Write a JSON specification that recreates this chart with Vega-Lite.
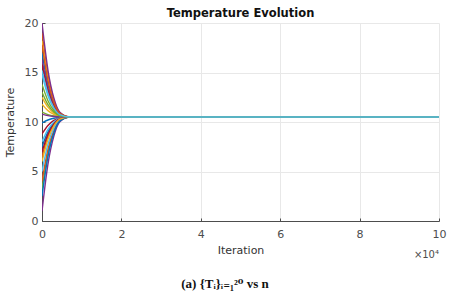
{
  "$schema": "https://vega.github.io/schema/vega-lite/v6.json",
  "background": "white",
  "padding": {"left": 4, "top": 7, "right": 15, "bottom": 2},
  "config": {
    "view": {"stroke": null},
    "axis": {
      "labelFont": "DejaVu Sans", "titleFont": "DejaVu Sans",
      "labelFontSize": 11, "titleFontSize": 11, "titleFontWeight": "normal",
      "labelColor": "#4d4d4d", "titleColor": "#333333",
      "domainColor": "#4d4d4d", "tickColor": "#4d4d4d",
      "gridColor": "#e8e8e8", "gridOpacity": 1,
      "tickSize": -3, "labelPadding": 7
    },
    "title": {"font": "DejaVu Sans"}
  },
  "title": {"text": "(a) {Tᵢ}ᵢ₌₁²⁰ vs n", "orient": "bottom", "font": "Liberation Serif, DejaVu Serif", "fontSize": 13, "fontWeight": "bold", "color": "#111111", "offset": 18, "anchor": "middle"},
  "datasets": {
    "temps": [
      {"s":0,"n":0,"t":9.9},{"s":0,"n":1500,"t":10.2},{"s":0,"n":3000,"t":10.38},{"s":0,"n":4500,"t":10.47},{"s":0,"n":7000,"t":10.5},{"s":0,"n":100000,"t":10.5},
      {"s":1,"n":0,"t":19},{"s":1,"n":1500,"t":14.75},{"s":1,"n":3000,"t":12.2},{"s":1,"n":4500,"t":10.93},{"s":1,"n":7000,"t":10.5},{"s":1,"n":100000,"t":10.5},
      {"s":2,"n":0,"t":18.2},{"s":2,"n":1500,"t":14.35},{"s":2,"n":3000,"t":12.04},{"s":2,"n":4500,"t":10.89},{"s":2,"n":7000,"t":10.5},{"s":2,"n":100000,"t":10.5},
      {"s":3,"n":0,"t":20},{"s":3,"n":1500,"t":15.25},{"s":3,"n":3000,"t":12.4},{"s":3,"n":4500,"t":10.98},{"s":3,"n":7000,"t":10.5},{"s":3,"n":100000,"t":10.5},
      {"s":4,"n":0,"t":3.2},{"s":4,"n":1500,"t":6.85},{"s":4,"n":3000,"t":9.04},{"s":4,"n":4500,"t":10.14},{"s":4,"n":7000,"t":10.5},{"s":4,"n":100000,"t":10.5},
      {"s":5,"n":0,"t":14.8},{"s":5,"n":1500,"t":12.65},{"s":5,"n":3000,"t":11.36},{"s":5,"n":4500,"t":10.72},{"s":5,"n":7000,"t":10.5},{"s":5,"n":100000,"t":10.5},
      {"s":6,"n":0,"t":8.8},{"s":6,"n":1500,"t":9.65},{"s":6,"n":3000,"t":10.16},{"s":6,"n":4500,"t":10.42},{"s":6,"n":7000,"t":10.5},{"s":6,"n":100000,"t":10.5},
      {"s":7,"n":0,"t":17},{"s":7,"n":1500,"t":13.75},{"s":7,"n":3000,"t":11.8},{"s":7,"n":4500,"t":10.83},{"s":7,"n":7000,"t":10.5},{"s":7,"n":100000,"t":10.5},
      {"s":8,"n":0,"t":4},{"s":8,"n":1500,"t":7.25},{"s":8,"n":3000,"t":9.2},{"s":8,"n":4500,"t":10.18},{"s":8,"n":7000,"t":10.5},{"s":8,"n":100000,"t":10.5},
      {"s":9,"n":0,"t":12.5},{"s":9,"n":1500,"t":11.5},{"s":9,"n":3000,"t":10.9},{"s":9,"n":4500,"t":10.6},{"s":9,"n":7000,"t":10.5},{"s":9,"n":100000,"t":10.5},
      {"s":10,"n":0,"t":16.3},{"s":10,"n":1500,"t":13.4},{"s":10,"n":3000,"t":11.66},{"s":10,"n":4500,"t":10.79},{"s":10,"n":7000,"t":10.5},{"s":10,"n":100000,"t":10.5},
      {"s":11,"n":0,"t":13.8},{"s":11,"n":1500,"t":12.15},{"s":11,"n":3000,"t":11.16},{"s":11,"n":4500,"t":10.67},{"s":11,"n":7000,"t":10.5},{"s":11,"n":100000,"t":10.5},
      {"s":12,"n":0,"t":5},{"s":12,"n":1500,"t":7.75},{"s":12,"n":3000,"t":9.4},{"s":12,"n":4500,"t":10.23},{"s":12,"n":7000,"t":10.5},{"s":12,"n":100000,"t":10.5},
      {"s":13,"n":0,"t":15.8},{"s":13,"n":1500,"t":13.15},{"s":13,"n":3000,"t":11.56},{"s":13,"n":4500,"t":10.77},{"s":13,"n":7000,"t":10.5},{"s":13,"n":100000,"t":10.5},
      {"s":14,"n":0,"t":7.5},{"s":14,"n":1500,"t":9},{"s":14,"n":3000,"t":9.9},{"s":14,"n":4500,"t":10.35},{"s":14,"n":7000,"t":10.5},{"s":14,"n":100000,"t":10.5},
      {"s":15,"n":0,"t":6.5},{"s":15,"n":1500,"t":8.5},{"s":15,"n":3000,"t":9.7},{"s":15,"n":4500,"t":10.3},{"s":15,"n":7000,"t":10.5},{"s":15,"n":100000,"t":10.5},
      {"s":16,"n":0,"t":11.8},{"s":16,"n":1500,"t":11.15},{"s":16,"n":3000,"t":10.76},{"s":16,"n":4500,"t":10.57},{"s":16,"n":7000,"t":10.5},{"s":16,"n":100000,"t":10.5},
      {"s":17,"n":0,"t":1},{"s":17,"n":1500,"t":5.75},{"s":17,"n":3000,"t":8.6},{"s":17,"n":4500,"t":10.03},{"s":17,"n":7000,"t":10.5},{"s":17,"n":100000,"t":10.5},
      {"s":18,"n":0,"t":11},{"s":18,"n":1500,"t":10.75},{"s":18,"n":3000,"t":10.6},{"s":18,"n":4500,"t":10.53},{"s":18,"n":7000,"t":10.5},{"s":18,"n":100000,"t":10.5},
      {"s":19,"n":0,"t":8},{"s":19,"n":1500,"t":9.25},{"s":19,"n":3000,"t":10},{"s":19,"n":4500,"t":10.38},{"s":19,"n":7000,"t":10.5},{"s":19,"n":100000,"t":10.5},
      {"s":20,"n":0,"t":7},{"s":20,"n":1500,"t":8.75},{"s":20,"n":3000,"t":9.8},{"s":20,"n":4500,"t":10.33},{"s":20,"n":7000,"t":10.5},{"s":20,"n":100000,"t":10.5},
      {"s":21,"n":0,"t":2.5},{"s":21,"n":1500,"t":6.5},{"s":21,"n":3000,"t":8.9},{"s":21,"n":4500,"t":10.1},{"s":21,"n":7000,"t":10.5},{"s":21,"n":100000,"t":10.5},
      {"s":22,"n":0,"t":17.8},{"s":22,"n":1500,"t":14.15},{"s":22,"n":3000,"t":11.96},{"s":22,"n":4500,"t":10.87},{"s":22,"n":7000,"t":10.5},{"s":22,"n":100000,"t":10.5},
      {"s":23,"n":0,"t":6},{"s":23,"n":1500,"t":8.25},{"s":23,"n":3000,"t":9.6},{"s":23,"n":4500,"t":10.28},{"s":23,"n":7000,"t":10.5},{"s":23,"n":100000,"t":10.5},
      {"s":24,"n":0,"t":10.8},{"s":24,"n":1500,"t":10.65},{"s":24,"n":3000,"t":10.56},{"s":24,"n":4500,"t":10.52},{"s":24,"n":7000,"t":10.5},{"s":24,"n":100000,"t":10.5},
      {"s":25,"n":0,"t":13},{"s":25,"n":1500,"t":11.75},{"s":25,"n":3000,"t":11},{"s":25,"n":4500,"t":10.63},{"s":25,"n":7000,"t":10.5},{"s":25,"n":100000,"t":10.5},
      {"s":26,"n":0,"t":15.2},{"s":26,"n":1500,"t":12.85},{"s":26,"n":3000,"t":11.44},{"s":26,"n":4500,"t":10.74},{"s":26,"n":7000,"t":10.5},{"s":26,"n":100000,"t":10.5}
    ],
    "note": [{"n": 100000, "t": 0, "label": "×10⁴"}]
  },
  "vconcat": [
    {
      "width": 397,
      "height": 198,
      "title": {"text": "Temperature Evolution", "fontSize": 11.5, "fontWeight": "bold", "color": "#111111", "offset": -2, "anchor": "middle"},
      "layer": [
        {
          "data": {"name": "temps"},
          "mark": {"type": "line", "interpolate": "monotone", "strokeWidth": 1.4, "clip": true},
          "encoding": {
            "x": {"field": "n", "type": "quantitative", "scale": {"domain": [0, 100000], "nice": false},
                  "axis": {"title": "Iteration", "values": [0, 20000, 40000, 60000, 80000, 100000], "labelExpr": "datum.value / 10000", "labelPadding": 10, "titlePadding": 5, "labelFlush": false}},
            "y": {"field": "t", "type": "quantitative", "scale": {"domain": [0, 20], "nice": false},
                  "axis": {"title": "Temperature", "values": [0, 5, 10, 15, 20], "titlePadding": 9}},
            "color": {"field": "s", "type": "nominal", "legend": null,
                      "scale": {"range": ["#0072BD", "#D95319", "#EDB120", "#7E2F8E", "#77AC30", "#4DBEEE", "#A2142F"]}},
            "order": {"field": "n", "type": "quantitative"}
          }
        },
        {
          "data": {"name": "note"},
          "mark": {"type": "text", "align": "right", "baseline": "middle", "dy": 34, "font": "DejaVu Sans", "fontSize": 10, "color": "#4d4d4d"},
          "encoding": {
            "x": {"field": "n", "type": "quantitative"},
            "y": {"field": "t", "type": "quantitative"},
            "text": {"field": "label"}
          }
        }
      ]
    }
  ]
}
